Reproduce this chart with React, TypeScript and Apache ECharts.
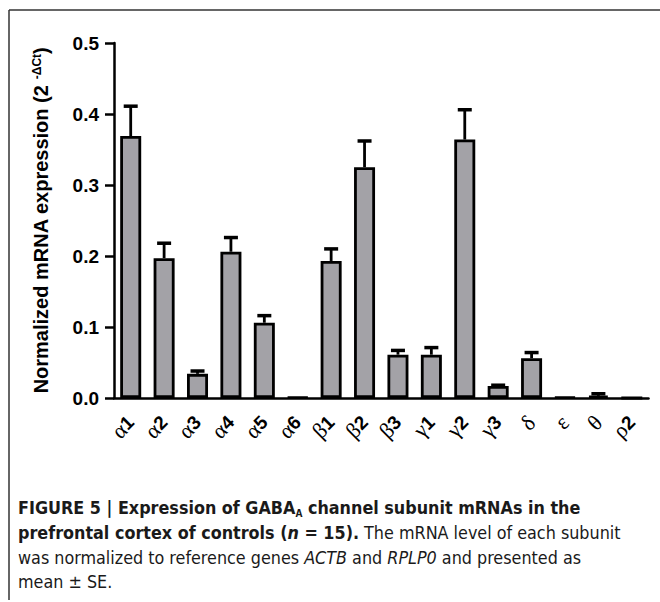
import React, { useEffect, useRef } from "react";
import * as echarts from "echarts";

const categories = ["α1", "α2", "α3", "α4", "α5", "α6", "β1", "β2", "β3", "γ1", "γ2", "γ3", "δ", "ε", "θ", "ρ2"];
const means = [0.369, 0.197, 0.034, 0.206, 0.106, 0.001, 0.193, 0.325, 0.061, 0.061, 0.364, 0.017, 0.056, 0.001, 0.003, 0.0];
const errors = [0.042, 0.021, 0.004, 0.020, 0.010, 0.0, 0.017, 0.037, 0.006, 0.010, 0.042, 0.001, 0.008, 0.0, 0.003, 0.0];
const yTicks = [0, 0.1, 0.2, 0.3, 0.4, 0.5];

const SANS = "'Liberation Sans', Arial, sans-serif";
const CAP = "'Liberation Sans Narrow', 'DejaVu Sans Condensed', Roboto, sans-serif";

export default function App() {
  const ref = useRef<HTMLDivElement>(null);
  useEffect(() => {
    if (!ref.current) return;
    const chart = echarts.init(ref.current, null, { renderer: "svg" });
    const errData = means.map((m, i) => [i, m, m + errors[i]]);
    const capBase = { fontFamily: CAP, fontSize: 17.8, fill: "#1a1a1a", lineHeight: 22 };
    const capRich = {
      b: { ...capBase, fontWeight: "bold" },
      bi: { ...capBase, fontWeight: "bold", fontStyle: "italic" },
      bs: { ...capBase, fontWeight: "bold", fontSize: 10, verticalAlign: "bottom" },
      r: { ...capBase },
      i: { ...capBase, fontStyle: "italic" },
    };
    const capLine = (y: number, text: string) => ({
      type: "text",
      left: 18,
      top: y,
      style: { text, rich: capRich, font: "17.8px sans-serif" },
    });
    chart.setOption({
      animation: false,
      backgroundColor: "#fff",
      grid: { left: 114, top: 43, right: 11.5, height: 355, containLabel: false },
      xAxis: {
        type: "category",
        data: categories,
        axisLine: { lineStyle: { color: "#000", width: 2.5 } },
        axisTick: { alignWithLabel: true, length: 10, lineStyle: { color: "#000", width: 2.5 } },
        axisLabel: {
          rotate: 45,
          margin: 21,
          interval: 0,
          formatter: (v: string) => {
            const g = v.charAt(0);
            const n = v.slice(1);
            return n ? `{g|${g}}{n|${n}}` : `{g|${g}}`;
          },
          rich: {
            g: { fontFamily: "'Liberation Serif', 'DejaVu Serif', serif", fontSize: 22, color: "#000" },
            n: { fontFamily: SANS, fontWeight: "bold", fontSize: 19, color: "#000" },
          },
        },
      },
      yAxis: {
        type: "value",
        min: 0,
        max: 0.5,
        interval: 0.1,
        splitLine: { show: false },
        axisLine: { show: true, lineStyle: { color: "#000", width: 2.5 } },
        axisTick: { show: true, length: 9, lineStyle: { color: "#000", width: 2.5 } },
        axisLabel: {
          margin: 15,
          fontFamily: SANS,
          fontWeight: "bold",
          fontSize: 19,
          color: "#000",
          formatter: (v: number) => {
            const t = yTicks.find((k) => Math.abs(k - v) < 1e-9);
            return (t ?? v).toFixed(1);
          },
        },
        name: "{t|Normalized mRNA expression (2 }{s|-ΔCt}{t|)}",
        nameLocation: "middle",
        nameGap: 63,
        nameTextStyle: {
          rich: {
            t: { fontFamily: SANS, fontWeight: "bold", fontSize: 20, color: "#000" },
            s: { fontFamily: SANS, fontWeight: "bold", fontSize: 12, color: "#000", verticalAlign: "top" },
          },
        },
      },
      series: [
        {
          type: "bar",
          data: means,
          barWidth: 21,
          itemStyle: { color: "#a3a2a7", borderColor: "#000", borderWidth: 2.8 },
          z: 2,
        },
        {
          type: "custom",
          data: errData,
          z: 3,
          renderItem: (params: any, api: any) => {
            const top = api.coord([api.value(0), api.value(2)]);
            const base = api.coord([api.value(0), api.value(1)]);
            if (base[1] - top[1] < 0.5) return null;
            return {
              type: "group",
              children: [
                { type: "line", shape: { x1: top[0], y1: base[1], x2: top[0], y2: top[1] }, style: { stroke: "#000", lineWidth: 2.8 } },
                { type: "line", shape: { x1: top[0] - 7, y1: top[1], x2: top[0] + 7, y2: top[1] }, style: { stroke: "#000", lineWidth: 3.5 } },
              ],
            };
          },
        },
      ],
      graphic: [
        { type: "line", shape: { x1: 9, y1: 10, x2: 660, y2: 10 }, style: { stroke: "#333", lineWidth: 1.5 } },
        { type: "line", shape: { x1: 9, y1: 10, x2: 9, y2: 600 }, style: { stroke: "#333", lineWidth: 1.5 } },
        capLine(498, "{b|FIGURE 5 | Expression of GABA}{bs|A}{b| channel subunit mRNAs in the}"),
        capLine(523, "{b|prefrontal cortex of controls (}{bi|n}{b| = 15).}{r| The mRNA level of each subunit}"),
        capLine(548, "{r|was normalized to reference genes }{i|ACTB}{r| and }{i|RPLP0}{r| and presented as}"),
        capLine(572, "{r|mean ± SE.}"),
      ],
    });
    return () => chart.dispose();
  }, []);
  return <div ref={ref} style={{ position: "absolute", left: 0, top: 0, width: 660, height: 602 }} />;
}
